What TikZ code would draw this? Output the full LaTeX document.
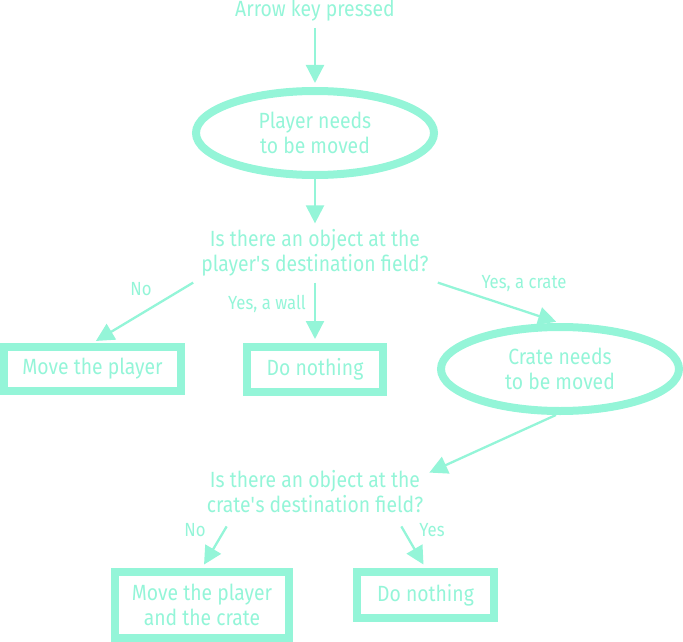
\documentclass[tikz,border=0pt]{standalone}
\usepackage{fontspec}
\setmainfont{Fira Sans}[FakeStretch=0.88]
\usetikzlibrary{arrows.meta,shapes.geometric}
\definecolor{mint}{HTML}{94F5D8}
\begin{document}
\begin{tikzpicture}[x=1pt, y=-1pt, mint,
    txt/.style={text=mint, align=center, font=\fontsize{22}{25}\selectfont, inner sep=0pt},
    oval/.style={txt, draw, ellipse, line width=8pt, minimum width=238pt, minimum height=84pt},
    box/.style={txt, draw, rectangle, line width=8pt},
    ask/.style={txt, inner sep=6pt},
    lbl/.style={text=mint, font=\fontsize{19}{20}\selectfont, inner sep=0pt},
    arr/.style={line width=2.3pt, -{Triangle[length=18pt,width=18pt]}},
    into/.style={arr, shorten >=4pt}]
    \useasboundingbox (0,0) rectangle (683,642);

    % Player move
    \node[txt] (key) at (315,11) {Arrow key pressed};
    \node[oval] (pl) at (315,133) {Player needs\\to be moved};
    \node[ask] (q1) at (315,253) {Is there an object at the\\player\textquotesingle s destination field?};

    % First answers
    \node[box, minimum width=177pt, minimum height=44pt] (mp) at (92.5,369) {Move the player};
    \node[box, minimum width=136pt, minimum height=45pt] (dn1) at (315,369.5) {Do nothing};
    \node[oval] (cr) at (560,369) {Crate needs\\to be moved};

    % Crate move
    \node[ask] (q2) at (315,492) {Is there an object at the\\crate\textquotesingle s destination field?};
    \node[box, minimum width=174pt, minimum height=66pt] (mpc) at (202,605) {Move the player\\and the crate};
    \node[box, minimum width=137pt, minimum height=46pt] (dn2) at (425.5,595) {Do nothing};

    % Labels
    \node[lbl] (l1) at (141,289) {No};
    \node[lbl] (l2) at (267,304) {Yes, a wall};
    \node[lbl] (l3) at (524,284) {Yes, a crate};
    \node[lbl] (l4) at (195,530) {No};
    \node[lbl] (l5) at (432,530) {Yes};

    % Arrows
    \draw[into] ([xshift=-2pt]q1.south west) -- (mp.north);
    \draw[into] (q1.south) -- (dn1.north);
    \draw[into] ([xshift=3pt]q1.south east) -- (cr.north);
    \draw[into] ([yshift=-6pt]key.south) -- (pl.north);
    \draw[arr] (pl.south) -- (q1.north);
    \draw[arr] (cr.265) -- ([yshift=-8pt]q2.north east);
    \draw[into] ([xshift=26pt,yshift=-7pt]q2.south west) -- (mpc.north);
    \draw[into] ([xshift=-28pt,yshift=-7pt]q2.south east) -- (dn2.north);
\end{tikzpicture}
\end{document}
